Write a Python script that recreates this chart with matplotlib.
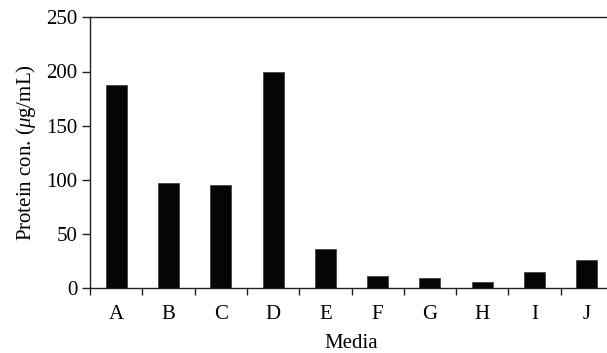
import numpy as np
import matplotlib
matplotlib.use('Agg')
import matplotlib.pyplot as plt

# Data
media = ['A', 'B', 'C', 'D', 'E', 'F', 'G', 'H', 'I', 'J']
protein = [187.3, 96.9, 95.3, 200.0, 36.3, 11.3, 9.8, 5.5, 15.0, 25.8]
yticks = [0, 50, 100, 150, 200, 250]

plt.rcParams['font.family'] = 'Liberation Serif'
plt.rcParams['mathtext.fontset'] = 'custom'
plt.rcParams['mathtext.it'] = 'Liberation Serif:italic'
plt.rcParams['mathtext.rm'] = 'Liberation Serif'

fs = 15

fig = plt.figure(figsize=(6.07, 3.53), dpi=100)
ax = fig.add_axes([90 / 607, 1 - 288.3 / 353, 523 / 607, (288.3 - 17.3) / 353])

x = np.arange(len(media))
ax.bar(x, protein, width=0.4, color='#050505', edgecolor='#444444', linewidth=0.6)

ax.set_xlim(-0.5, len(media) - 0.5)
ax.set_ylim(0, 250)
ax.set_yticks(yticks)
ax.set_xticks(x)
ax.set_xticklabels(media)
ax.set_xticks(np.arange(len(media) + 1) - 0.5, minor=True)

ax.tick_params(axis='x', which='major', length=0, pad=12, labelsize=fs)
ax.tick_params(axis='x', which='minor', length=5, width=1, direction='out', color='#222222')
ax.tick_params(axis='y', length=6, width=1, direction='out', labelsize=fs, pad=3, color='#222222')

for side in ['left', 'top', 'bottom']:
    ax.spines[side].set_linewidth(1)
    ax.spines[side].set_color('#222222')
ax.spines['right'].set_visible(False)

ax.set_ylabel(r'Protein con. ($\mu$g/mL)', fontsize=fs, labelpad=6)
ax.set_xlabel('Media', fontsize=fs, labelpad=7)

fig.savefig('out.png', dpi=100)
